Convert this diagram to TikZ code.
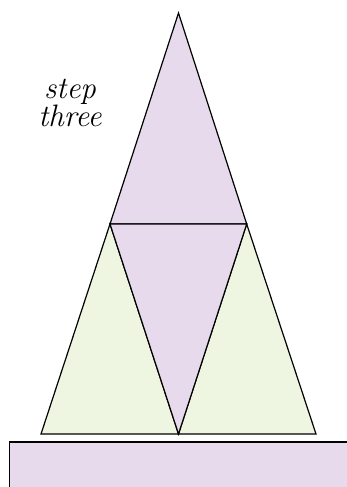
\documentclass[tikz,border=0pt]{standalone}
\usepackage{fontspec}
\usepackage{tikz}
\usetikzlibrary{calc,positioning}
\definecolor{lilac}{RGB}{230,218,236}
\definecolor{sage}{RGB}{238,245,225}

\begin{document}
\begin{tikzpicture}[x=1pt,y=-1pt,
  piece/.style={draw, line width=1.2pt, line join=miter},
  label/.style={font=\fontsize{31}{27}\selectfont\itshape, align=center}]
\useasboundingbox (0,0) rectangle (346,487);
\coordinate (top) at (178.5,13);
\coordinate (ml) at (110,224);
\coordinate (mr) at (246.7,224);
\coordinate (bl) at (41,434);
\coordinate (bc) at (178.5,434);
\coordinate (br) at (316,434);
\fill[lilac] (9.5,442) rectangle (360,500);
\draw[piece] (360,442) -- (9.5,442) -- (9.5,500);
\draw[piece,fill=lilac] (top) -- (mr) -- (ml) -- cycle;
\draw[piece,fill=sage] (ml) -- (bc) -- (bl) -- cycle;
\draw[piece,fill=sage] (mr) -- (br) -- (bc) -- cycle;
\draw[piece,fill=lilac] (ml) -- (mr) -- (bc) -- cycle;
\node[label] (txt) at (70,103) {step\\three};
\end{tikzpicture}
\end{document}
